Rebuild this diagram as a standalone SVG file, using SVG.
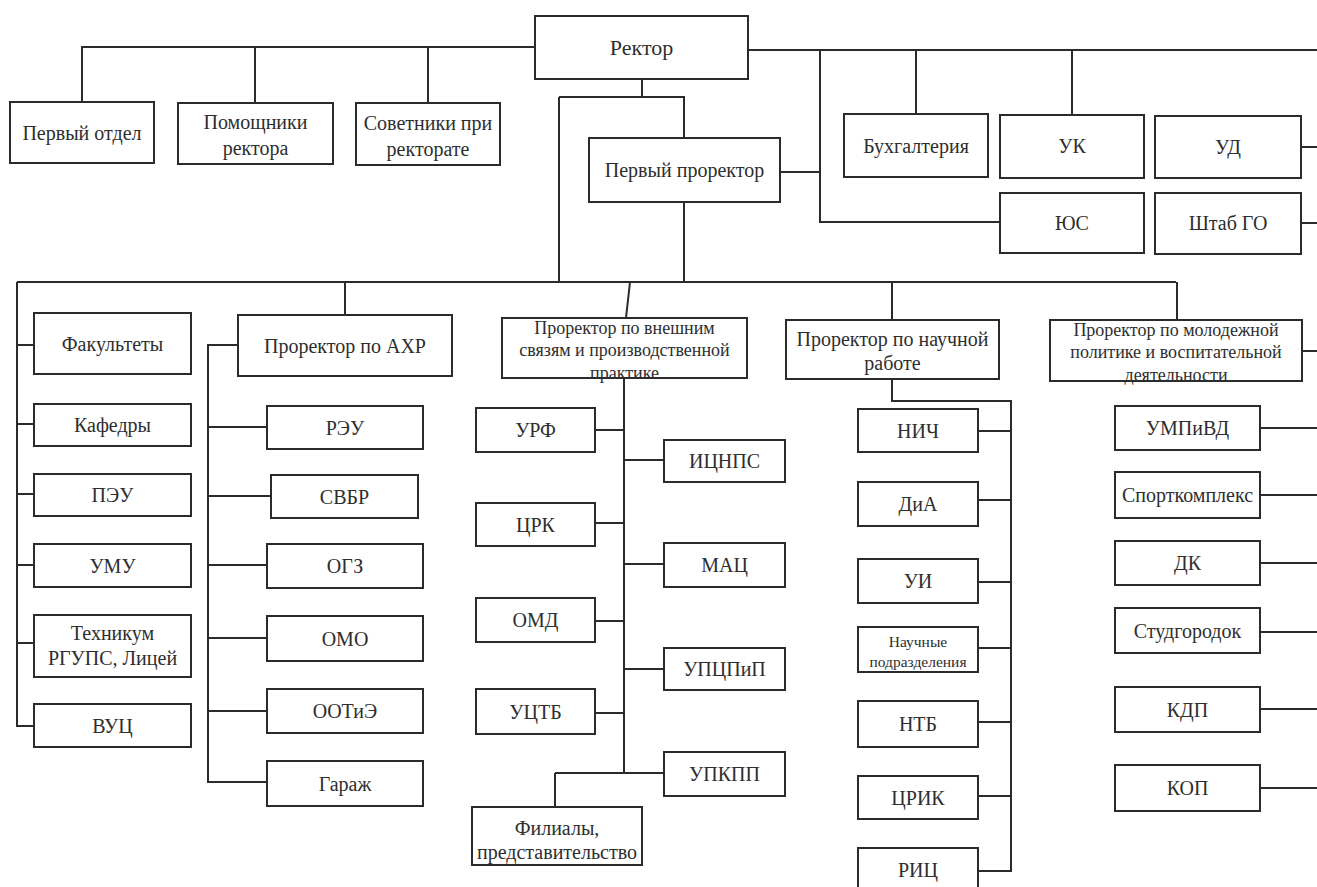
<svg xmlns="http://www.w3.org/2000/svg" width="1317" height="887" viewBox="0 0 1317 887">
<style>
.box{fill:#fff;stroke:#2b2b2b;stroke-width:2}
.c{fill:none;stroke:#2b2b2b;stroke-width:2}
text{font-family:"Liberation Serif","Times New Roman",serif;font-size:20px;fill:#2e2e2e;text-anchor:middle}
.big{font-size:22px}
.m{font-size:18px}
.s{font-size:15.5px}
</style>
<rect width="1317" height="887" fill="#fff"/>
<g id="connectors" class="c">
<path d="M82 102V47H535M255 103V47M428 103V47"/>
<path d="M748 50H1317M820 50V222H1000M780 172H820M916 50V114M1072 50V115M1301 147H1317M1301 223H1317"/>
<path d="M642 79V97M559 97H684V138M559 97V282M684 202V282"/>
<path d="M17 282H1176M345 282V315M630 282L626 318M892 282V320M1177 282V320"/>
<path d="M17 282V726H34M17 345H34M17 424H34M17 494H34M17 565H34M17 643H34"/>
<path d="M238 345H208V782H267M208 427H267M208 496H271M208 565H267M208 638H267M208 711H267"/>
<path d="M624 378V773M595 430H624M595 523H624M595 621H624M595 713H624M624 460H664M624 564H664M624 669H664M555 773H664M555 773V807"/>
<path d="M892 379V401H1011V871H978M978 431H1011M978 500H1011M978 582H1011M978 648H1011M978 722H1011M978 796H1011"/>
<path d="M1302 351H1317M1260 428H1317M1260 495H1317M1260 563H1317M1260 632H1317M1260 709H1317M1260 788H1317"/>
</g>
<g id="rector"><rect class="box" x="535" y="16" width="213" height="63"/><text class="big" x="641.5" y="55">Ректор</text></g>
<g id="first-dept"><rect class="box" x="10" y="102" width="144" height="61"/><text x="82" y="139.5">Первый отдел</text></g>
<g id="assistants"><rect class="box" x="178" y="103" width="155" height="61"/><text x="255.5" y="129">Помощники</text><text x="255.5" y="155">ректора</text></g>
<g id="advisors"><rect class="box" x="356" y="103" width="144" height="62"/><text x="428" y="130">Советники при</text><text x="428" y="156">ректорате</text></g>
<g id="first-prorector"><rect class="box" x="589" y="138" width="191" height="64"/><text x="684.5" y="177">Первый проректор</text></g>
<g id="accounting"><rect class="box" x="844" y="114" width="144" height="63"/><text x="916" y="152.5">Бухгалтерия</text></g>
<g id="uk"><rect class="box" x="1000" y="115" width="144" height="63"/><text x="1072" y="153">УК</text></g>
<g id="ud"><rect class="box" x="1155" y="116" width="146" height="62"/><text x="1228" y="154">УД</text></g>
<g id="yus"><rect class="box" x="1000" y="193" width="144" height="60"/><text x="1072" y="230">ЮС</text></g>
<g id="shtab"><rect class="box" x="1155" y="193" width="146" height="61"/><text x="1228" y="230">Штаб ГО</text></g>

<g id="faculties"><rect class="box" x="34" y="313" width="157" height="61"/><text x="112.5" y="350.5">Факультеты</text></g>
<g id="departments"><rect class="box" x="34" y="404" width="157" height="42"/><text x="112.5" y="432">Кафедры</text></g>
<g id="peu"><rect class="box" x="34" y="474" width="157" height="42"/><text x="112.5" y="502">ПЭУ</text></g>
<g id="umu"><rect class="box" x="34" y="544" width="157" height="43"/><text x="112.5" y="572.5">УМУ</text></g>
<g id="technikum"><rect class="box" x="34" y="615" width="157" height="62"/><text x="112.5" y="640">Техникум</text><text x="112.5" y="665">РГУПС, Лицей</text></g>
<g id="vuc"><rect class="box" x="34" y="704" width="157" height="43"/><text x="112.5" y="732.5">ВУЦ</text></g>

<g id="prorector-ahr"><rect class="box" x="238" y="315" width="214" height="61"/><text x="345" y="352.5">Проректор по АХР</text></g>
<g id="reu"><rect class="box" x="267" y="406" width="156" height="43"/><text x="345" y="434.5">РЭУ</text></g>
<g id="svbr"><rect class="box" x="271" y="475" width="147" height="43"/><text x="344.5" y="503.5">СВБР</text></g>
<g id="ogz"><rect class="box" x="267" y="544" width="156" height="44"/><text x="345" y="573">ОГЗ</text></g>
<g id="omo"><rect class="box" x="267" y="616" width="156" height="45"/><text x="345" y="645.5">ОМО</text></g>
<g id="ootie"><rect class="box" x="267" y="689" width="156" height="44"/><text x="345" y="718">ООТиЭ</text></g>
<g id="garage"><rect class="box" x="267" y="761" width="156" height="45"/><text x="345" y="790.5">Гараж</text></g>

<g id="prorector-ext"><rect class="box" x="502" y="318" width="245" height="60"/><text class="m" x="624.5" y="334">Проректор по внешним</text><text class="m" x="624.5" y="356">связям и производственной</text><text class="m" x="624.5" y="379">практике</text></g>
<g id="urf"><rect class="box" x="476" y="408" width="119" height="44"/><text x="535.5" y="437">УРФ</text></g>
<g id="crk"><rect class="box" x="476" y="503" width="119" height="43"/><text x="535.5" y="531.5">ЦРК</text></g>
<g id="omd"><rect class="box" x="476" y="598" width="119" height="44"/><text x="535.5" y="627">ОМД</text></g>
<g id="uctb"><rect class="box" x="476" y="689" width="119" height="45"/><text x="535.5" y="718.5">УЦТБ</text></g>
<g id="icnps"><rect class="box" x="664" y="440" width="121" height="42"/><text x="724.5" y="468">ИЦНПС</text></g>
<g id="mac"><rect class="box" x="664" y="543" width="121" height="44"/><text x="724.5" y="572">МАЦ</text></g>
<g id="upcpip"><rect class="box" x="664" y="648" width="121" height="42"/><text x="724.5" y="676">УПЦПиП</text></g>
<g id="upkpp"><rect class="box" x="664" y="752" width="121" height="44"/><text x="724.5" y="781">УПКПП</text></g>
<g id="branches"><rect class="box" x="472" y="807" width="170" height="58"/><text x="557" y="835">Филиалы,</text><text x="557" y="859">представительство</text></g>

<g id="prorector-sci"><rect class="box" x="786" y="320" width="213" height="59"/><text x="892.5" y="346">Проректор по научной</text><text x="892.5" y="370">работе</text></g>
<g id="nich"><rect class="box" x="858" y="409" width="120" height="43"/><text x="918" y="437.5">НИЧ</text></g>
<g id="dia"><rect class="box" x="858" y="482" width="120" height="44"/><text x="918" y="511">ДиА</text></g>
<g id="ui"><rect class="box" x="858" y="559" width="120" height="44"/><text x="918" y="588">УИ</text></g>
<g id="sci-units"><rect class="box" x="858" y="627" width="120" height="45"/><text class="s" x="918" y="646.5">Научные</text><text class="s" x="918" y="666.5">подразделения</text></g>
<g id="ntb"><rect class="box" x="858" y="701" width="120" height="46"/><text x="918" y="731">НТБ</text></g>
<g id="crik"><rect class="box" x="858" y="776" width="120" height="43"/><text x="918" y="804.5">ЦРИК</text></g>
<g id="ric"><rect class="box" x="858" y="848" width="120" height="44"/><text x="918" y="877">РИЦ</text></g>

<g id="prorector-youth"><rect class="box" x="1050" y="320" width="252" height="61"/><text class="m" x="1176" y="336">Проректор по молодежной</text><text class="m" x="1176" y="358">политике и воспитательной</text><text class="m" x="1176" y="381">деятельности</text></g>
<g id="umpivd"><rect class="box" x="1115" y="406" width="145" height="44"/><text x="1187.5" y="435">УМПиВД</text></g>
<g id="sport"><rect class="box" x="1115" y="472" width="145" height="46"/><text x="1187.5" y="502">Спорткомплекс</text></g>
<g id="dk"><rect class="box" x="1115" y="541" width="145" height="44"/><text x="1187.5" y="570">ДК</text></g>
<g id="studgorodok"><rect class="box" x="1115" y="608" width="145" height="45"/><text x="1187.5" y="637.5">Студгородок</text></g>
<g id="kdp"><rect class="box" x="1115" y="687" width="145" height="45"/><text x="1187.5" y="716.5">КДП</text></g>
<g id="kop"><rect class="box" x="1115" y="765" width="145" height="46"/><text x="1187.5" y="795">КОП</text></g>
</svg>
